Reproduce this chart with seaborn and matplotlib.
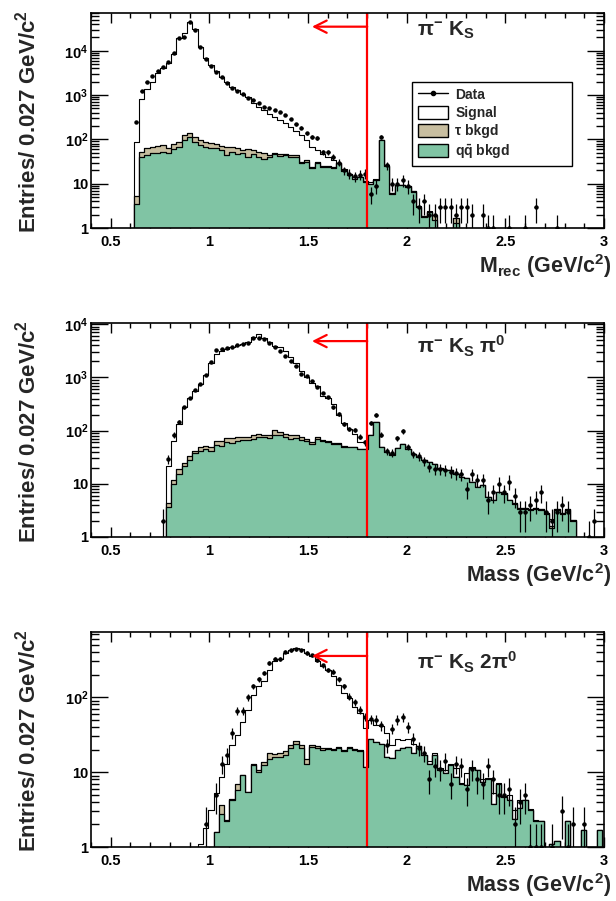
import numpy as np
import pandas as pd
import matplotlib
matplotlib.use("Agg")
import matplotlib.pyplot as plt
from matplotlib.lines import Line2D
from matplotlib.patches import Patch
from matplotlib.ticker import FixedLocator, MultipleLocator, LogLocator, NullFormatter
import seaborn as sns

# binning: Entries / 0.027 GeV/c^2
bin_width = 0.027
edges = np.round(0.4 + bin_width * np.arange(97), 4)
centers = 0.5 * (edges[:-1] + edges[1:])
n_bins = len(centers)

# ---- pi- K_S ----
p1_data = [0] * 8 + [250, 1250, 1950, 2700, 3500, 4370, 5500, 8700, 19700, 20800,
                     44500, 29000, 12300, 6400, 4600, 3400, 2500, 1900, 1480, 1230,
                     1080, 870, 770, 650, 530, 500, 460, 420, 355, 290,
                     220, 185, 137, 115, 110, 52, 52, 40, 30, 20,
                     17, 15, 16, 17, 6, 9, 115, 26, 10, 10,
                     12, 9, 4, 3, 4, 2, 2, 3, 3, 3,
                     2, 3, 3, 2, 0, 2, 1, 1, 0, 0,
                     1, 0, 0, 1, 0, 3, 0, 0, 0, 1]
p1_signal_top = [0] * 8 + [88, 800, 1340, 2000, 3200, 4000, 5200, 8300, 19800, 24700,
                           44500, 30500, 12300, 6800, 4800, 3500, 2600, 2000, 1540, 1300,
                           1050, 920, 650, 545, 460, 365, 325, 280, 240, 195,
                           155, 125, 96, 68, 59, 48, 41, 35, 30, 21,
                           17, 14, 14.5, 11.5, 11, 12.5, 97, 26, 6.3, 9.6,
                           9.5, 8.8, 6.8, 3.1, 1.9, 2.4, 2.0, 0, 0, 0, 1.65]
p1_tau_top = [0] * 8 + [5.4, 52.6, 62.8, 68.2, 71.8, 74.9, 62.8, 78.7, 88.4, 125,
                        140, 115, 96, 88.4, 81, 78.7, 70.8, 68.2, 68.2, 62.8,
                        57.5, 60.4, 57.5, 52.6, 48.4, 44.4, 48.4, 46, 47.4, 44.4,
                        43.6, 31.4, 33.5, 24.3, 30.3, 25.5, 25, 23.3, 29.7, 20.3,
                        16.2, 12.9, 14.4, 11.5, 9.9, 12.2, 96, 25.5, 6.1, 9.4,
                        9.4, 8.7, 6.7, 3.05, 1.85, 2.35, 2.0, 0, 0, 0, 1.65]
p1_qq = [0] * 8 + [3.4, 40.6, 44.4, 48.4, 48.4, 52.6, 48.4, 60.4, 68.2, 95,
                   112, 88.4, 74.9, 68.2, 64.9, 62.8, 57.5, 44.4, 52.6, 46.6,
                   48.4, 40.6, 46.6, 40.6, 35.5, 40.6, 46.6, 42, 44.4, 40.6,
                   40.6, 28.8, 31.4, 22.2, 28.8, 24.3, 24.3, 22.2, 28.8, 19.6,
                   15.7, 12.5, 13.9, 11.1, 9.7, 12, 96, 25, 6, 9.3,
                   9.3, 8.6, 6.6, 3, 1.8, 2.3, 1.5, 0, 0, 0, 1.27]

# ---- pi- K_S pi0 ----
p2_data = [0] * 13 + [2, 29, 83, 143, 274, 410, 590, 750, 1120, 1970,
                      3330, 3400, 3500, 3650, 4100, 4200, 4500, 5500, 5600, 5200,
                      4400, 3700, 3100, 2550, 2050, 1600, 1160, 1080, 860, 650,
                      500, 420, 274, 205, 133, 107, 103, 77, 60, 137,
                      197, 84, 41, 38, 72, 97, 50, 36, 33, 27,
                      21, 19, 19, 18, 17, 16, 15, 8, 15, 12,
                      12, 5, 7, 10, 7, 11, 6, 3, 3, 4,
                      5, 7, 3, 2, 3, 4, 3, 0, 0, 0, 1, 2]
p2_signal_top = [0] * 13 + [0, 22, 65, 133, 274, 410, 560, 750, 1120, 1900,
                            2750, 3160, 3400, 3650, 4100, 4300, 4700, 5800, 6500, 5600,
                            4700, 3900, 3650, 3100, 2450, 1830, 1330, 1030, 800, 700,
                            450, 410, 310, 197, 137, 107, 87, 62, 61, 82,
                            146, 50, 40, 36, 48, 57, 46, 37, 32, 28,
                            26, 24, 19.5, 18.5, 18, 15.6, 13.5, 13, 11, 8.8,
                            9.4, 5.7, 5, 7.1, 6.6, 5, 4.3, 3.5, 3.5, 3.3,
                            3.5, 3.3, 2.8, 2.2, 3.3, 2.8, 3.3, 2.1]
p2_tau_top = [0] * 13 + [0, 4.3, 11.9, 19.2, 24.4, 33, 42, 48.7, 51, 48.7,
                         65, 63, 73, 73, 77, 75, 77, 81, 87, 84,
                         84, 104, 93, 87, 81, 83, 75, 68, 62, 75,
                         67, 65, 59, 58, 52, 50, 49.5, 46, 46, 82,
                         146, 50, 40, 36, 48, 57, 46, 37, 32, 28,
                         26, 24, 19.5, 18.5, 18, 15.6, 13.5, 13, 11, 8.8,
                         9.4, 5.7, 5, 7.1, 6.6, 5, 4.3, 3.5, 3.5, 3.3,
                         3.5, 3.3, 2.8, 1.6, 3.3, 2.8, 3.3, 2.1]
p2_qq = [0] * 13 + [0, 3.7, 10, 15.4, 22, 28.2, 37.6, 41, 45, 42,
                    54.6, 52.3, 60.5, 58.8, 63, 67, 67, 70, 75, 75,
                    73, 84, 81, 75, 70, 73, 67, 63, 56, 70,
                    63, 60.5, 56, 56, 50, 49, 49, 45, 45, 81,
                    144, 49, 39, 35.5, 47, 56, 45, 36.5, 31.6, 27.4,
                    25.5, 23.7, 19, 18.3, 17.8, 15.4, 13.3, 12.8, 10.8, 8.7,
                    9.3, 5.6, 4.9, 7, 6.5, 4.9, 4.2, 3.4, 3.4, 3.2,
                    3.4, 3.2, 2.7, 1.5, 3.2, 2.7, 3.2, 2]

# ---- pi- K_S 2pi0 ----
p3_data = [0] * 20 + [0, 2, 0, 5, 13, 17, 33, 66, 66, 100,
                      139, 174, 210, 285, 322, 322, 405, 420, 438, 420,
                      390, 360, 310, 265, 232, 220, 174, 139, 102, 85,
                      68, 55, 51, 50, 42, 23, 38, 50, 54, 40,
                      28, 21, 18, 8, 12, 11, 14, 7, 13, 12,
                      6, 11, 8, 7, 12, 8, 5, 5, 6, 2,
                      4, 5, 1, 1, 1, 0, 1, 0, 3, 1,
                      2, 0, 2, 0, 0, 0]
p3_signal_top = [0] * 20 + [1.1, 1.8, 3.1, 5.2, 8.7, 13, 23, 31, 47, 68,
                            107, 139, 162, 232, 300, 322, 390, 430, 455, 440,
                            390, 350, 300, 258, 232, 190, 146, 113, 97, 73,
                            61, 38.5, 50, 42.5, 41, 33, 23, 28, 27, 28,
                            24, 22.5, 17, 14, 17.8, 11.2, 10.6, 12.8, 11.2, 7.2,
                            9.6, 11.6, 10.7, 8.2, 8.3, 5.2, 7.1, 4.8, 5, 3.1,
                            4.2, 4.3, 3.2, 2.3, 2.2, 0, 1.1, 1.2, 0, 2.2,
                            0, 0, 1.7, 0, 0, 1.7]
p3_tau_top = [0] * 20 + [0, 0, 0, 1.6, 3.6, 2.3, 4.4, 7, 9.1, 5.5,
                         13, 10.6, 13.7, 17.8, 17.4, 17.8, 19, 23, 26, 23,
                         14.8, 23, 22, 21, 21, 20.5, 21.5, 20, 21.5, 20.5,
                         19.7, 11.8, 27.4, 25.4, 24, 16, 15.3, 19.7, 20.7, 21.8,
                         17.8, 22.3, 16.9, 13, 16.9, 10.6, 9.8, 12.4, 8.7, 7,
                         6.7, 11.5, 10.6, 7.4, 8.2, 3.8, 7, 4.7, 4.2, 2.4,
                         3.3, 4.2, 3.1, 2.2, 2.2, 0, 1.1, 1.2, 0, 2.2,
                         0, 0, 1.7, 0, 0, 1.7]
p3_qq = [0] * 20 + [0, 0, 0, 1.6, 2.8, 2.2, 4.2, 5.7, 9.1, 5.5,
                    12.4, 10.1, 12.4, 14.8, 16, 16, 17, 20.7, 24, 20.7,
                    13, 21.8, 21.2, 20, 20.4, 19.7, 20.7, 19, 20.7, 20,
                    19, 11.8, 27.4, 25.4, 24, 16, 15.3, 19.7, 20.7, 21.8,
                    17.8, 22.3, 16.9, 13, 16.9, 10.6, 9.8, 12.4, 8.7, 7,
                    6.7, 11.5, 10.6, 7.4, 8.2, 3.8, 7, 4.7, 4.2, 2.4,
                    3.3, 4.2, 3.1, 2.2, 2.2, 0, 1.1, 1.2, 0, 2.2,
                    0, 0, 1.7, 0, 0, 1.7]

titles = [r'$\mathrm{\pi}^{-}$ K$_{\mathbf{S}}$',
          r'$\mathrm{\pi}^{-}$ K$_{\mathbf{S}}$ $\mathrm{\pi}^{\mathbf{0}}$',
          r'$\mathrm{\pi}^{-}$ K$_{\mathbf{S}}$ 2$\mathrm{\pi}^{\mathbf{0}}$']
xlabels = [r'M$_{\mathbf{rec}}$ (GeV/c$^{\mathbf{2}}$)',
           r'Mass (GeV/c$^{\mathbf{2}}$)',
           r'Mass (GeV/c$^{\mathbf{2}}$)']
ymax = [7.1e4, 1.05e4, 740]
arrow_y = [35000, 4800, 355]
cut = 1.8
arrow_end = 1.52

green = '#80c4a4'
tan = '#c8bea0'


def pad(v):
    v = np.asarray(v, float)
    return np.concatenate([v, np.zeros(n_bins - len(v))])


sns.set_theme(style='ticks')
plt.rcParams['font.family'] = ['Liberation Sans', 'DejaVu Sans']
plt.rcParams['font.weight'] = 'bold'
plt.rcParams['axes.labelweight'] = 'bold'
plt.rcParams['mathtext.fontset'] = 'custom'
plt.rcParams['mathtext.rm'] = 'Liberation Sans'
plt.rcParams['mathtext.bf'] = 'Liberation Sans:bold'
plt.rcParams['mathtext.it'] = 'Liberation Sans:italic'
plt.rcParams['mathtext.sf'] = 'Liberation Sans'

fig = plt.figure(figsize=(6.16, 9.01), dpi=100)
boxes = [[0.1477, 0.7469, 0.8328, 0.2386],
         [0.1477, 0.4040, 0.8328, 0.2375],
         [0.1477, 0.0599, 0.8328, 0.2386]]

panels = [(p1_data, p1_signal_top, p1_tau_top, p1_qq),
          (p2_data, p2_signal_top, p2_tau_top, p2_qq),
          (p3_data, p3_signal_top, p3_tau_top, p3_qq)]

for i, (data, sig, tau, qq) in enumerate(panels):
    ax = fig.add_axes(boxes[i])
    ax.set_yscale('log')
    qq = pad(qq)
    tau = np.maximum(pad(tau), qq)
    sig = np.maximum(pad(sig), tau)

    # stacked histograms: signal on top of tau on top of qq
    for vals, col, lw in [(sig, 'white', 0.8), (tau, tan, 0.9), (qq, green, 0.9)]:
        df = pd.DataFrame({'mass': centers, 'entries': vals})
        sns.histplot(data=df, x='mass', weights='entries', bins=edges.tolist(),
                     element='step', fill=True, color=col, alpha=1,
                     edgecolor='black', linewidth=lw, ax=ax)

    # data points with Poisson errors
    d = pad(data)
    m = d > 0
    err = np.sqrt(d[m])
    ax.errorbar(centers[m], d[m], yerr=[np.minimum(err, d[m] * 0.999), err],
                xerr=bin_width * 0.3, fmt='o', ms=2.2, color='black',
                elinewidth=0.9, capsize=0, zorder=5)

    # cut line and arrow
    ax.axvline(cut, color='red', lw=1.6, zorder=6)
    ax.annotate('', xy=(arrow_end, arrow_y[i]), xytext=(cut, arrow_y[i]),
                arrowprops=dict(arrowstyle='->', color='red', lw=1.6,
                                mutation_scale=22, shrinkA=0, shrinkB=0), zorder=6)

    ax.text(0.635, 0.92 - 0.03 * i, titles[i], transform=ax.transAxes,
            fontsize=15, ha='left', va='center', fontweight='bold')

    ax.set_xlim(0.4, 3.0)
    ax.set_ylim(1, ymax[i])
    ax.xaxis.set_major_locator(FixedLocator([0.5, 1, 1.5, 2, 2.5, 3]))
    ax.set_xticklabels(['0.5', '1', '1.5', '2', '2.5', '3'], fontweight='bold')
    ax.xaxis.set_minor_locator(MultipleLocator(0.1))
    yt = [t for t in [1, 10, 100, 1e3, 1e4] if t <= ymax[i]]
    ylab = {1: '1', 10: '10', 100: r'$\mathbf{10^{2}}$', 1e3: r'$\mathbf{10^{3}}$',
            1e4: r'$\mathbf{10^{4}}$'}
    ax.yaxis.set_major_locator(FixedLocator(yt))
    ax.set_yticklabels([ylab[t] for t in yt], fontweight='bold')
    ax.yaxis.set_minor_locator(LogLocator(base=10, subs=np.arange(2, 10)))
    ax.yaxis.set_minor_formatter(NullFormatter())
    ax.tick_params(which='both', direction='in', top=True, right=True,
                   colors='black', width=1, labelsize=10.5)
    ax.tick_params(axis='x', which='major', length=7, pad=5)
    ax.tick_params(axis='x', which='minor', length=3.5)
    ax.tick_params(axis='y', which='major', length=12, pad=2)
    ax.tick_params(axis='y', which='minor', length=6)
    for s in ax.spines.values():
        s.set_linewidth(1.2)
        s.set_color('black')
        s.set_zorder(10)

    ax.set_xlabel(xlabels[i], fontsize=15.5, fontweight='bold', ha='right', va='center')
    ax.xaxis.set_label_coords(1.014, -0.178)
    ax.set_ylabel('Entries/ 0.027 GeV/c$^{\\mathbf{2}}$', fontsize=16, fontweight='bold',
                  rotation_mode='default', ha='center', va='top')
    ax.yaxis.set_label_coords(-0.124, 1.015)

    if i == 0:
        handles = [Line2D([], [], color='black', marker='o', ms=3, lw=1),
                   Patch(facecolor='white', edgecolor='black', lw=1),
                   Patch(facecolor=tan, edgecolor='black', lw=1),
                   Patch(facecolor=green, edgecolor='black', lw=1)]
        labels = ['Data', 'Signal', 'τ bkgd', r'$\mathbf{q\bar{q}}$ bkgd']
        leg = ax.legend(handles, labels, loc='lower left',
                        bbox_to_anchor=(0.626, 0.288, 0.312, 0.386), mode='expand',
                        prop={'size': 10, 'weight': 'bold'}, frameon=True,
                        fancybox=False, framealpha=1,
                        edgecolor='black', handlelength=2.2, handleheight=1.05,
                        labelspacing=0.3, borderaxespad=0, handletextpad=0.5)
        leg.get_frame().set_linewidth(1)
        leg.set_zorder(12)

fig.savefig('out.png', dpi=100)
